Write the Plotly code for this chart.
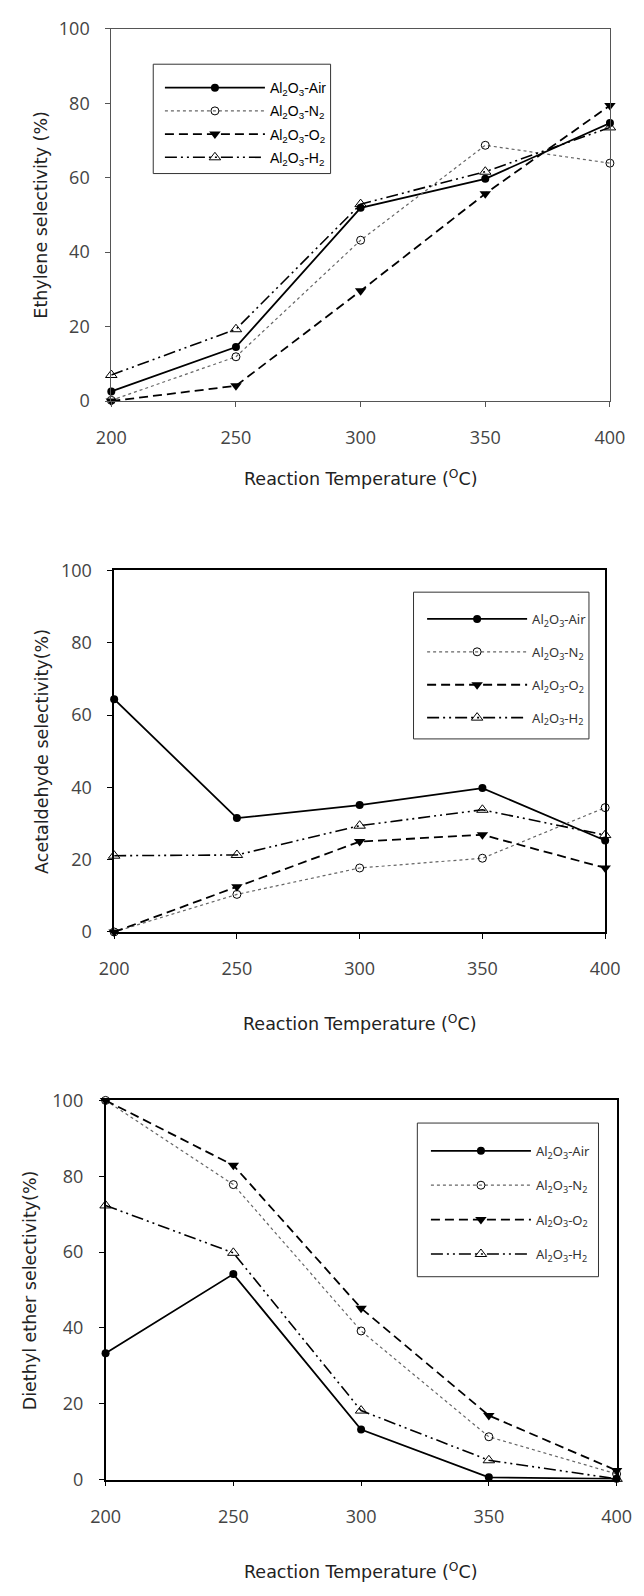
import plotly.graph_objects as go

# ---------------- data ----------------
temps = [200, 250, 300, 350, 400]

series_names = ["Al<sub>2</sub>O<sub>3</sub>-Air", "Al<sub>2</sub>O<sub>3</sub>-N<sub>2</sub>",
                "Al<sub>2</sub>O<sub>3</sub>-O<sub>2</sub>", "Al<sub>2</sub>O<sub>3</sub>-H<sub>2</sub>"]

ethylene_air = [2.6, 14.5, 51.9, 59.7, 74.7]
ethylene_n2 = [0.2, 11.9, 43.2, 68.7, 63.9]
ethylene_o2 = [0.0, 4.1, 29.6, 55.7, 79.4]
ethylene_h2 = [7.0, 19.3, 52.9, 61.6, 73.5]

acet_air = [64.4, 31.5, 35.1, 39.8, 25.3]
acet_n2 = [0.0, 10.4, 17.7, 20.4, 34.4]
acet_o2 = [0.0, 12.5, 25.0, 26.9, 17.7]
acet_h2 = [21.1, 21.3, 29.4, 33.8, 26.8]

ether_air = [33.3, 54.2, 13.2, 0.6, 0.2]
ether_n2 = [100.0, 77.8, 39.2, 11.3, 1.5]
ether_o2 = [100.0, 82.9, 45.2, 16.9, 2.4]
ether_h2 = [72.3, 59.8, 18.2, 5.1, 0.2]

x_ticks = [200, 250, 300, 350, 400]
y_ticks = [0, 20, 40, 60, 80, 100]

y_titles = ["Ethylene selectivity (%)", "Acetaldehyde selectivity(%)", "Diethyl ether selectivity(%)"]
x_title = "Reaction Temperature (<sup>O</sup>C)"

# ---------------- styling ----------------
W, H = 644, 1596
styles = [
    dict(line=dict(color="black", width=1.8, dash="solid"),
         marker=dict(symbol="circle", size=8, color="black")),
    dict(line=dict(color="#666", width=1.2, dash="dot"),
         marker=dict(symbol="circle-open", size=8, color="black", line=dict(width=1))),
    dict(line=dict(color="black", width=1.8, dash="9px,5px"),
         marker=dict(symbol="triangle-down", size=10, color="black")),
    dict(line=dict(color="black", width=1.6, dash="12px,4px,2px,4px,2px,4px"),
         marker=dict(symbol="triangle-up-open", size=10, color="black", line=dict(width=1))),
]

# panels: plot area in pixels (left, right, top, bottom)
panels = [
    dict(box=(101, 624, 16, 394), data=[ethylene_air, ethylene_n2, ethylene_o2, ethylene_h2],
         linecolor="#555", linewidth=1, ytitle_x=27, xtitle_y=472,
         legend_box=(145, 331, 52, 163), legend_font=dict(family="Liberation Sans, Arial", size=14, color="black"),
         gap=2, leg_dy=8, leg_dx=7),
    dict(box=(104, 619, 566, 933), data=[acet_air, acet_n2, acet_o2, acet_h2],
         linecolor="black", linewidth=1.5, ytitle_x=29, xtitle_y=1025,
         legend_box=(418, 602, 588, 737), legend_font=dict(family="Noto Sans", size=13, color="#333"),
         gap=13, leg_dy=12, leg_dx=9),
    dict(box=(95, 631, 1104, 1489), data=[ether_air, ether_n2, ether_o2, ether_h2],
         linecolor="black", linewidth=1.5, ytitle_x=16, xtitle_y=1582,
         legend_box=(422, 612, 1127, 1283), legend_font=dict(family="Noto Sans", size=13, color="#333"),
         gap=14.5, leg_dy=13, leg_dx=9),
]

fig = go.Figure()
layout = dict(width=W, height=H, margin=dict(l=0, r=0, t=0, b=0),
              paper_bgcolor="white", plot_bgcolor="white", showlegend=True,
              annotations=[], shapes=[])

tick_font = dict(family="Open Sans", size=18, color="#444")
title_font = dict(family="DejaVu Sans", size=17.5, color="#222")

for i, p in enumerate(panels):
    k = "" if i == 0 else str(i + 1)
    l, r, t, b = p["box"]
    xd = [l / W, r / W]
    yd = [1 - b / H, 1 - t / H]
    legname = "legend" + k
    for j, ys in enumerate(p["data"]):
        st = styles[j]
        fig.add_trace(go.Scatter(
            x=temps, y=ys, mode="lines+markers", name=series_names[j],
            line=st["line"], marker=st["marker"], cliponaxis=False,
            xaxis="x" + k, yaxis="y" + k, legend=legname,
            legendgroup=f"p{i}s{j}", showlegend=True))
    layout["xaxis" + k] = dict(domain=xd, range=[200, 400], tickvals=x_ticks, anchor="y" + k,
                               showgrid=False, zeroline=False, showline=True, mirror=True,
                               linecolor=p["linecolor"], linewidth=p["linewidth"],
                               ticks="outside", ticklen=5, tickcolor=p["linecolor"],
                               tickfont=tick_font, ticklabelstandoff=15)
    layout["yaxis" + k] = dict(domain=yd, range=[0, 100], tickvals=y_ticks, anchor="x" + k,
                               showgrid=False, zeroline=False, showline=True, mirror=True,
                               linecolor=p["linecolor"], linewidth=p["linewidth"],
                               ticks="outside", ticklen=5, tickcolor=p["linecolor"],
                               tickfont=tick_font, ticklabelstandoff=12)
    layout["annotations"].append(dict(
        text=y_titles[i], textangle=-90, x=p["ytitle_x"] / W, y=1 - (t + b) / 2 / H,
        xref="paper", yref="paper", xanchor="center", yanchor="middle", showarrow=False,
        font=title_font))
    layout["annotations"].append(dict(
        text=x_title, x=(l + r) / 2 / W, y=1 - p["xtitle_y"] / H,
        xref="paper", yref="paper", xanchor="center", yanchor="middle", showarrow=False,
        font=title_font))
    lx0, lx1, ly0, ly1 = p["legend_box"]
    layout["shapes"].append(dict(type="rect", xref="paper", yref="paper",
                                 x0=lx0 / W, x1=lx1 / W, y0=1 - ly1 / H, y1=1 - ly0 / H,
                                 line=dict(color="#333", width=1), fillcolor="rgba(0,0,0,0)"))
    layout[legname] = dict(x=(lx0 + p["leg_dx"]) / W, y=1 - (ly0 + p["leg_dy"]) / H,
                           xanchor="left", yanchor="top",
                           bgcolor="rgba(0,0,0,0)", borderwidth=0, font=p["legend_font"],
                           itemwidth=100, tracegroupgap=p["gap"], traceorder="grouped")

fig.update_layout(**layout)
fig.write_html("out.html")
